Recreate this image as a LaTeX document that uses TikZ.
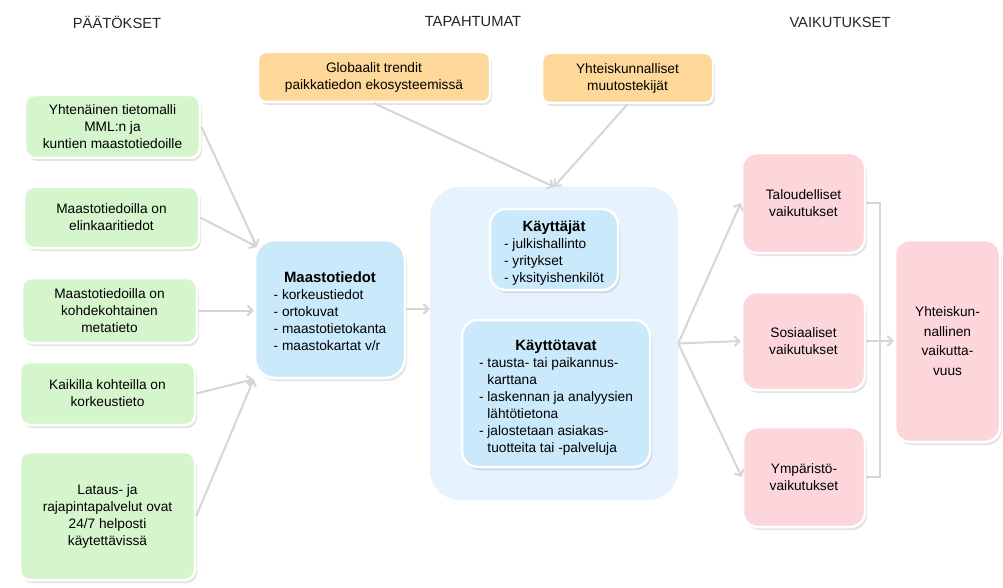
\documentclass[tikz,border=0pt]{standalone}
\usepackage{fontspec}
\setmainfont{Liberation Sans}
\usepackage{tikz}
\usetikzlibrary{arrows.meta, shadows, positioning}

\definecolor{decgreen}{HTML}{D5F6CC}
\definecolor{evorange}{HTML}{FDD898}
\definecolor{datablue}{HTML}{CAE9FB}
\definecolor{contblue}{HTML}{E6F2FD}
\definecolor{effpink}{HTML}{FDD6DB}
\definecolor{linegray}{HTML}{D6D6D6}

\newcommand{\dashlist}[1]{\begin{tabular}[t]{@{}l@{~}l@{}}#1\end{tabular}}
\newcommand{\boxtitle}[1]{{\fontsize{14.9}{17}\selectfont\bfseries\rule{0pt}{21pt}#1}}

\begin{document}
\begin{tikzpicture}[x=1pt, y=-1pt,
	head/.style={font=\fontsize{14.7}{17}\selectfont, text=black!85},
	box/.style={draw=white, line width=2.5pt, align=center, inner sep=2pt,
		font=\fontsize{13.7}{17}\selectfont,
		drop shadow={shadow xshift=2pt, shadow yshift=-3pt, opacity=0.22}},
	gbox/.style={box, fill=decgreen, rounded corners=10pt, minimum width=175pt},
	obox/.style={box, fill=evorange, rounded corners=8pt, minimum height=50pt},
	bbox/.style={box, fill=datablue, rounded corners=16pt},
	pbox/.style={box, fill=effpink, rounded corners=15pt},
	conn/.style={draw=linegray, line width=2pt, -{Straight Barb[length=5pt, width=10pt]}}]

	\fill[white] (0,0) rectangle (1003,588);
	\useasboundingbox (0,0) rectangle (1003,588);

	\node[head] (hdec) at (117,22) {PÄÄTÖKSET};
	\node[head] (hev) at (473,22) {TAPAHTUMAT};
	\node[head] (heff) at (840,22) {VAIKUTUKSET};

	% decisions
	\node[gbox, minimum height=63pt] (g1) at (112.5,126.5) {Yhtenäinen tietomalli\\MML:n ja\\kuntien maastotiedoille};
	\node[gbox, minimum height=61pt] (g2) at (111.5,217.5) {Maastotiedoilla on\\elinkaaritiedot};
	\node[gbox, minimum height=65pt] (g3) at (109.5,310.5) {Maastotiedoilla on\\kohdekohtainen\\metatieto};
	\node[gbox, minimum height=63pt] (g4) at (107.5,393.5) {Kaikilla kohteilla on\\korkeustieto};
	\node[gbox, minimum height=128pt] (g5) at (107.5,516) {Lataus- ja\\rajapintapalvelut ovat\\24/7 helposti\\käytettävissä};

	\node[bbox, rounded corners=20pt, minimum width=150pt, minimum height=138pt] (maasto) at (330,309)
		{\boxtitle{Maastotiedot}\\
		\dashlist{-&korkeustiedot\\-&ortokuvat\\-&maastotietokanta\\-&maastokartat v/r}};

	% events
	\node[obox, minimum width=232pt] (o1) at (374,77) {Globaalit trendit\\paikkatiedon ekosysteemissä};
	\node[obox, minimum width=171pt] (o2) at (627.5,78) {Yhteiskunnalliset\\muutostekijät};

	\node[fill=contblue, rounded corners=30pt, minimum width=248pt, minimum height=313pt] (tap) at (554,343.5) {};
	\node[bbox, minimum width=128pt, minimum height=81pt] (kayt) at (554,249.5)
		{\boxtitle{Käyttäjät}\\
		\dashlist{-&julkishallinto\\-&yritykset\\-&yksityishenkilöt}};
	\node[bbox, minimum width=188pt, minimum height=147pt] (tavat) at (556,393.5)
		{\boxtitle{Käyttötavat}\\
		\dashlist{-&tausta- tai paikannus-\\&karttana\\-&laskennan ja analyysien\\&lähtötietona\\-&jalostetaan asiakas-\\&tuotteita tai -palveluja}};

	% effects
	\node[pbox, minimum width=123pt, minimum height=100pt] (p1) at (803.5,203) {Taloudelliset\\vaikutukset};
	\node[pbox, minimum width=123pt, minimum height=98pt] (p2) at (803.5,341) {Sosiaaliset\\vaikutukset};
	\node[pbox, minimum width=122pt, minimum height=100pt] (p3) at (804,477) {Ympäristö-\\vaikutukset};
	\node[pbox, minimum width=105pt, minimum height=202pt, font=\fontsize{13.7}{19.5}\selectfont] (yht) at (947.5,341)
		{Yhteiskun-\\nallinen\\vaikutta-\\vuus};

	\coordinate (bx) at (880,341);

	\draw[conn] (g1.east) -- ([xshift=3pt, yshift=-8pt]maasto.north west);
	\draw[conn] (g2.east) -- ([xshift=3pt, yshift=-8pt]maasto.north west);
	\draw[conn] (g3.east) -- (g3.east -| maasto.west);
	\draw[conn] (g4.east) -- (maasto.south west);
	\draw[conn] (g5.east) -- (maasto.south west);
	\draw[conn] (maasto.east) -- (maasto.east -| tap.west);
	\draw[conn] (o1.south) -- (tap.north);
	\draw[conn] (o2.south) -- (tap.north);
	\draw[conn] (tap.east) -- (p1.west);
	\draw[conn] (tap.east) -- (p2.west);
	\draw[conn] (tap.east) -- (p3.west);
	\draw[draw=linegray, line width=2pt] (p1.east) -| (bx) |- (p3.east);
	\draw[conn] (p2.east) -- (yht.west);
\end{tikzpicture}
\end{document}
